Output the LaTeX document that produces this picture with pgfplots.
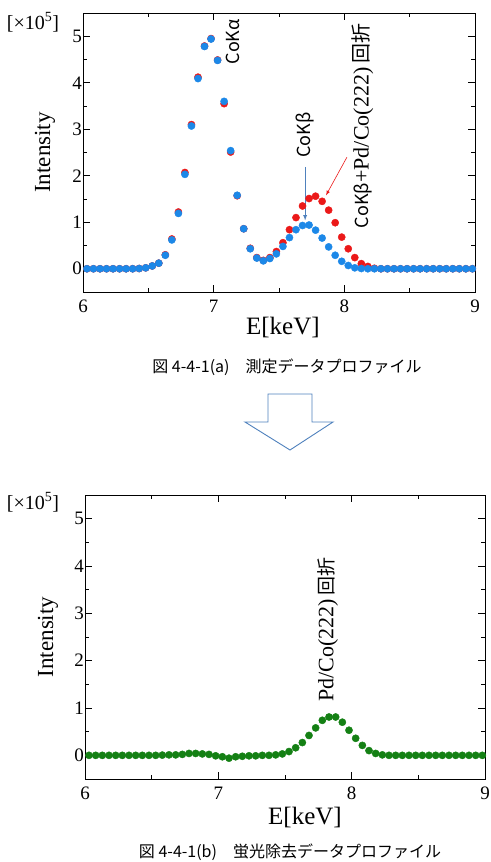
\documentclass[border=0pt]{standalone}
\usepackage{fontspec}
\setmainfont{Liberation Serif}
\newfontfamily\jp{Noto Sans CJK JP}
\newfontfamily\tm{Liberation Serif}
\usepackage{pgfplots}
\usepackage{pgfplotstable}
\pgfplotsset{compat=1.18}

\definecolor{ptblue}{RGB}{28,136,232}
\definecolor{ptred}{RGB}{235,25,25}
\definecolor{ptgreen}{RGB}{20,128,20}
\definecolor{arrowblue}{RGB}{79,129,189}

% E [keV], measured profile (CoK beta + diffraction), fluorescence fit, fluorescence-removed profile
\pgfplotstableread{
x     red   blue  green
6.03  0     0     0
6.08  0     0     0
6.13  0     0     0
6.18  0     0     0
6.23  0     0     0
6.28  0     0     0
6.33  0     0     0
6.38  0     0     0
6.43  0.005 0.005 0
6.48  0.02  0.02  0
6.53  0.06  0.06  0
6.58  0.12  0.12  0.005
6.63  0.30  0.29  0.01
6.68  0.64  0.62  0.01
6.73  1.22  1.19  0.02
6.78  2.07  2.03  0.04
6.83  3.10  3.07  0.04
6.88  4.12  4.09  0.03
6.93  4.79  4.78  0.02
6.98  4.95  4.94  -0.01
7.03  4.49  4.48  -0.03
7.08  3.55  3.60  -0.06
7.13  2.51  2.54  -0.03
7.18  1.57  1.58  -0.02
7.23  0.86  0.86  -0.01
7.28  0.44  0.43  -0.01
7.33  0.24  0.23  0
7.38  0.18  0.17  0
7.43  0.24  0.22  0.01
7.48  0.37  0.32  0.03
7.53  0.56  0.48  0.08
7.58  0.84  0.67  0.16
7.63  1.10  0.84  0.27
7.68  1.35  0.93  0.42
7.73  1.51  0.94  0.58
7.78  1.56  0.83  0.74
7.83  1.45  0.66  0.81
7.88  1.26  0.47  0.81
7.93  0.99  0.29  0.70
7.98  0.68  0.16  0.53
8.03  0.43  0.07  0.36
8.08  0.24  0.02  0.21
8.13  0.11  0.005 0.10
8.18  0.05  0     0.04
8.23  0.01  0     0.01
8.28  0     0     0
8.33  0     0     0
8.38  0     0     0
8.43  0     0     0
8.48  0     0     0
8.53  0     0     0
8.58  0     0     0
8.63  0     0     0
8.68  0     0     0
8.73  0     0     0
8.78  0     0     0
8.83  0     0     0
8.88  0     0     0
8.93  0     0     0
8.98  0     0     0
}\profile

\pgfplotsset{
  spectrum/.style={
    scale only axis,
    xmin=6, xmax=9, ymin=-0.5, ymax=5.5,
    xtick={6,7,8,9}, minor xtick={6.5,7.5,8.5},
    ytick={0,1,2,3,4,5}, minor ytick={0.5,1.5,2.5,3.5,4.5},
    xticklabels={{\tm\fontsize{19}{19}\selectfont 6},{\tm\fontsize{19}{19}\selectfont 7},
                 {\tm\fontsize{19}{19}\selectfont 8},{\tm\fontsize{19}{19}\selectfont 9}},
    yticklabels={{\tm\fontsize{19}{19}\selectfont 0},{\tm\fontsize{19}{19}\selectfont 1},
                 {\tm\fontsize{19}{19}\selectfont 2},{\tm\fontsize{19}{19}\selectfont 3},
                 {\tm\fontsize{19}{19}\selectfont 4},{\tm\fontsize{19}{19}\selectfont 5}},
    tick align=inside,
    major tick length=7pt, minor tick length=4pt,
    every tick/.style={black, line width=0.6pt},
    axis line style={line width=0.7pt},
    xticklabel style={inner sep=1pt, yshift=-7pt},
    yticklabel style={inner sep=1pt},
    xlabel={\tm\fontsize{25}{25}\selectfont E[keV]},
    ylabel={\tm\fontsize{23}{23}\selectfont Intensity},
    xlabel style={anchor=center},
    ylabel style={anchor=center},
    clip=false,
  },
  dots/.style={only marks, mark=*, mark size=3.6pt, color=#1,
    mark options={solid, draw=none, fill=#1}},
}

\begin{document}
\begin{tikzpicture}
\path[use as bounding box] (0pt,0pt) rectangle (490pt,-862pt);

% (a) measured profile
\begin{axis}[spectrum,
  at={(83pt,-13pt)}, anchor=north west, width=392pt, height=279pt,
  xlabel style={at={(axis description cs:0.51,-0.129)}},
  ylabel style={at={(axis description cs:-0.097,0.5)}},
]
\addplot[dots=ptred] table[x=x, y=red] {\profile};
\addplot[dots=ptblue] table[x=x, y=blue] {\profile};
\node[rotate=90, anchor=west, inner sep=0pt]
  at (axis cs:7.15,4.39) {\jp\fontsize{18}{18}\selectfont CoKα};
\node[rotate=90, anchor=west, inner sep=0pt]
  at (axis cs:7.70,2.38) {\jp\fontsize{18}{18}\selectfont CoKβ};
\draw[-latex, arrowblue, line width=0.8pt] (axis cs:7.70,2.19) -- (axis cs:7.70,1.04);
\draw[-latex, ptred, line width=0.6pt] (axis cs:8.02,2.40) -- (axis cs:7.86,1.58);
\node[rotate=90, anchor=west, inner sep=0pt]
  at (axis cs:8.14,0.87) {{\jp\fontsize{18}{18}\selectfont CoKβ}{\tm\fontsize{22}{22}\selectfont +Pd/Co(222)\,}{\jp\fontsize{20}{20}\selectfont 回折}};
\end{axis}
\node[inner sep=0pt] at (33pt,-22pt) {\tm\fontsize{20}{20}\selectfont [×10\textsuperscript{5}]};
\node[inner sep=0pt] at (287pt,-367pt)
  {\jp\fontsize{16}{16}\selectfont 図 4-4-1(a)\quad 測定データプロファイル};

% hollow arrow between the two panels
\draw[arrowblue, line width=0.9pt, fill=white]
  (268pt,-394pt) -- (312pt,-394pt) -- (312pt,-422pt) -- (333pt,-422pt)
  -- (290pt,-450pt) -- (245pt,-422pt) -- (268pt,-422pt) -- cycle;

% (b) fluorescence-removed profile
\begin{axis}[spectrum,
  at={(85pt,-495pt)}, anchor=north west, width=400pt, height=284pt,
  xlabel style={at={(axis description cs:0.55,-0.134)}},
  ylabel style={at={(axis description cs:-0.0925,0.5)}},
]
\addplot[dots=ptgreen] table[x=x, y=green] {\profile};
\node[rotate=90, anchor=west, inner sep=0pt]
  at (axis cs:7.82,1.13) {{\tm\fontsize{22}{22}\selectfont Pd/Co(222)\,}{\jp\fontsize{19}{19}\selectfont 回折}};
\end{axis}
\node[inner sep=0pt] at (33pt,-502pt) {\tm\fontsize{20}{20}\selectfont [×10\textsuperscript{5}]};
\node[inner sep=0pt] at (290pt,-852pt)
  {\jp\fontsize{16}{16}\selectfont 図 4-4-1(b)\quad 蛍光除去データプロファイル};
\end{tikzpicture}
\end{document}
